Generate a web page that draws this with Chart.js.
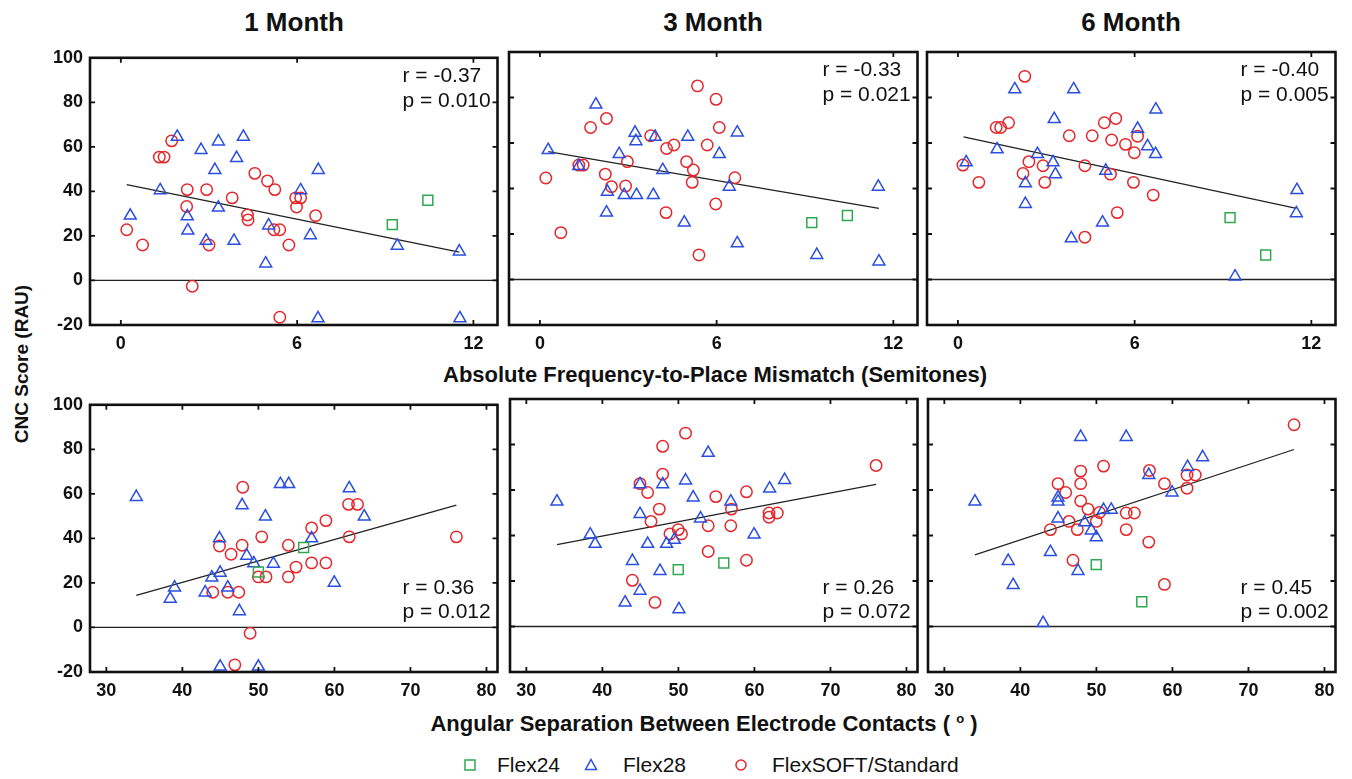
<!DOCTYPE html>
<html>
<head>
<meta charset="utf-8">
<script src="https://cdn.jsdelivr.net/npm/chart.js@4.4.0/dist/chart.umd.min.js"></script>
<style>
  body { margin: 0; background: #fff; }
  #fig { position: relative; width: 1352px; height: 779px; overflow: hidden;
         font-family: "Liberation Sans", Arial, sans-serif; color: #111; }
  #fig canvas { position: absolute; }
  .lbl { position: absolute; white-space: nowrap; transform: translate(-50%, -50%); }
  .title { font-size: 26px; font-weight: bold; }
  .axis { font-size: 22px; font-weight: bold; }
  .legend { position: absolute; font-size: 21px; white-space: nowrap; transform: translateY(-50%); }
</style>
</head>
<body>
<div id="fig">
  <div class="lbl title" style="left:294px; top:22px">1 Month</div>
  <div class="lbl title" style="left:713px; top:22px">3 Month</div>
  <div class="lbl title" style="left:1131px; top:22px">6 Month</div>
  <div class="lbl axis" style="left:22px; top:364px; transform:translate(-50%,-50%) rotate(-90deg); font-size:19px">CNC Score (RAU)</div>
  <div class="lbl axis" style="left:715px; top:375px">Absolute Frequency-to-Place Mismatch (Semitones)</div>
  <div class="lbl axis" style="left:704px; top:724px">Angular Separation Between Electrode Contacts ( <sup style="font-size:13px">o</sup> )</div>
</div>

<script>
// tick values
const mismatchTicks = [0, 6, 12];
const angleTicks = [30, 40, 50, 60, 70, 80];
const scoreTicks = [-20, 0, 20, 40, 60, 80, 100];

// series names
const seriesNames = ['Flex24', 'Flex28', 'FlexSOFT/Standard'];

// 1 month, mismatch (semitones) vs CNC
const mis1Flex24 = [[9.24, 25.1], [10.45, 36.0]];
const mis1Flex28 = [[1.92, 64.5], [2.73, 58.6], [3.32, 62.4], [4.17, 64.5], [3.94, 55.0], [3.20, 49.6], [6.72, 49.6],
  [1.34, 40.5], [6.12, 40.5], [0.32, 29.1], [2.26, 28.8], [3.32, 32.7], [2.28, 22.4], [5.03, 24.7], [2.90, 17.8],
  [3.85, 17.8], [6.45, 20.3], [4.93, 7.6], [9.41, 15.6], [11.52, 13.0], [6.71, -17.0], [11.54, -17.0]];
const mis1Soft = [[1.73, 62.7], [1.31, 55.4], [1.47, 55.4], [2.26, 40.8], [2.92, 40.8], [2.24, 33.2], [4.56, 48.1],
  [4.99, 44.7], [5.24, 40.8], [3.79, 37.1], [4.31, 29.4], [4.33, 27.2], [5.95, 37.1], [6.12, 37.1], [5.98, 33.0],
  [6.63, 29.1], [0.20, 22.8], [0.74, 15.9], [3.00, 15.9], [5.21, 22.8], [5.41, 22.8], [5.72, 15.9], [2.43, -2.6],
  [5.41, -16.5]];
const mis1Fit = [[0.20, 43.0], [11.52, 12.7]];

// 3 month, mismatch
const mis2Flex24 = [[9.23, 25.0], [10.44, 28.1]];
const mis2Flex28 = [[1.90, 76.9], [0.28, 56.9], [3.23, 64.5], [3.91, 62.7], [3.26, 60.8], [5.02, 62.7], [6.70, 64.6],
  [2.69, 55.1], [6.09, 55.1], [1.32, 49.9], [4.17, 48.1], [2.29, 38.6], [2.86, 37.1], [3.28, 37.1], [3.85, 37.1],
  [6.43, 40.8], [2.26, 29.4], [4.90, 25.0], [6.70, 15.9], [9.40, 10.8], [11.49, 40.8], [11.51, 7.9]];
const mis2Soft = [[5.35, 85.1], [5.98, 79.2], [2.26, 70.8], [1.72, 66.8], [6.09, 66.8], [3.76, 63.2], [4.30, 57.6],
  [4.55, 59.1], [5.68, 59.1], [1.32, 50.3], [1.47, 50.3], [2.97, 51.8], [4.98, 51.8], [5.21, 48.1], [5.17, 42.7],
  [2.22, 46.3], [2.43, 40.8], [2.91, 41.1], [0.20, 44.6], [6.62, 44.7], [5.97, 33.2], [4.28, 29.4], [0.71, 20.6],
  [5.40, 10.8]];
const mis2Fit = [[0.28, 56.2], [11.51, 31.3]];

// 6 month, mismatch
const mis3Flex24 = [[9.24, 27.2], [10.45, 10.8]];
const mis3Flex28 = [[1.93, 83.6], [3.93, 83.6], [6.72, 74.7], [3.27, 70.5], [6.10, 66.2], [1.33, 57.2], [6.44, 58.6],
  [6.71, 55.1], [2.70, 55.1], [0.28, 51.5], [3.23, 51.5], [3.31, 46.2], [5.02, 47.8], [2.29, 42.3], [2.29, 33.2],
  [4.91, 25.0], [3.85, 18.1], [11.51, 39.3], [11.49, 29.1], [9.41, 1.3]];
const mis3Soft = [[2.27, 89.3], [5.36, 70.8], [4.97, 68.9], [1.72, 68.9], [1.30, 66.8], [1.45, 66.8], [3.78, 63.2],
  [4.56, 63.2], [5.22, 61.3], [5.69, 59.4], [6.10, 63.0], [5.99, 55.7], [2.41, 51.8], [0.17, 50.3], [2.89, 50.0],
  [2.21, 46.6], [4.31, 50.0], [5.18, 46.3], [0.71, 42.7], [2.95, 42.7], [5.96, 42.7], [6.63, 37.1], [5.41, 29.4],
  [4.31, 18.6]];
const mis3Fit = [[0.19, 62.7], [11.49, 31.3]];

// 1 month, angular separation (deg) vs CNC
const ang1Flex24 = [[50.0, 24.9], [55.95, 35.9]];
const ang1Flex28 = [[33.94, 58.6], [52.89, 64.4], [53.98, 64.4], [61.95, 62.5], [47.86, 54.9], [63.92, 49.8],
  [50.92, 49.8], [44.88, 40.0], [57.0, 40.0], [48.47, 32.2], [49.39, 28.8], [51.97, 28.6], [44.97, 24.6],
  [43.87, 22.4], [38.97, 17.9], [38.4, 12.9], [43.0, 15.7], [45.97, 17.9], [59.98, 20.1], [47.5, 7.3],
  [44.97, -17.6], [50.0, -17.6]];
const ang1Soft = [[47.94, 63.0], [61.86, 55.3], [63.04, 55.3], [58.88, 48.0], [57.0, 44.7], [50.44, 40.7],
  [61.95, 40.7], [76.04, 40.7], [44.88, 36.6], [47.86, 36.9], [46.41, 32.9], [53.94, 36.9], [54.95, 27.1],
  [57.0, 29.0], [58.88, 29.0], [50.0, 22.7], [51.0, 22.7], [53.94, 22.7], [44.0, 15.8], [45.97, 15.8],
  [47.42, 15.8], [48.91, -2.6], [46.9, -16.8]];
const ang1Fit = [[33.94, 14.4], [76.04, 54.9]];

// 3 month, angular separation
const ang2Flex24 = [[49.98, 25.0], [55.97, 27.9]];
const ang2Flex28 = [[53.92, 76.3], [34.02, 54.9], [44.95, 62.5], [47.93, 62.5], [50.94, 64.2], [51.95, 56.7],
  [56.89, 54.9], [62.0, 60.6], [63.97, 64.4], [44.95, 49.4], [52.91, 47.5], [38.4, 40.4], [39.05, 36.3],
  [59.95, 40.4], [45.96, 36.3], [48.45, 36.3], [49.46, 38.1], [43.95, 28.8], [47.58, 24.4], [44.95, 15.7],
  [42.99, 10.5], [50.07, 7.6]];
const ang2Soft = [[50.94, 85.0], [47.93, 79.2], [76.0, 70.8], [47.93, 66.9], [44.95, 62.8], [45.96, 58.9],
  [54.92, 57.1], [58.95, 59.2], [47.49, 51.6], [56.98, 51.6], [61.92, 49.9], [61.92, 48.0], [63.01, 49.9],
  [46.4, 46.2], [53.92, 44.3], [56.89, 44.3], [49.98, 42.6], [48.89, 40.7], [50.41, 40.7], [53.92, 33.0],
  [58.95, 29.1], [43.95, 20.3], [46.92, 10.6]];
const ang2Fit = [[34.02, 36.0], [76.0, 62.5]];

// 6 month, angular separation
const ang3Flex24 = [[49.98, 27.2], [55.97, 10.9]];
const ang3Flex28 = [[47.93, 83.3], [53.92, 83.3], [63.97, 74.4], [62.0, 70.1], [56.89, 66.6], [59.95, 58.9],
  [34.02, 54.9], [44.95, 56.7], [44.95, 54.9], [50.94, 51.2], [51.95, 51.3], [44.95, 47.5], [48.45, 45.8],
  [49.33, 42.2], [49.98, 39.2], [43.95, 32.7], [38.4, 28.8], [47.58, 24.4], [39.05, 18.2], [42.99, 1.5]];
const ang3Soft = [[76.0, 88.7], [50.94, 70.5], [47.93, 68.3], [56.98, 68.6], [61.92, 66.6], [63.01, 66.6],
  [44.95, 62.8], [47.93, 62.8], [58.95, 62.8], [45.96, 58.9], [61.92, 60.8], [47.93, 55.2], [48.89, 51.6],
  [50.41, 50.1], [53.92, 49.9], [55.0, 49.9], [46.4, 46.2], [49.98, 46.2], [43.95, 42.6], [47.49, 42.6],
  [53.92, 42.6], [56.89, 37.1], [46.92, 29.1], [58.95, 18.5]];
const ang3Fit = [[34.02, 31.5], [76.0, 77.8]];

// correlation stats per panel
const rValues = ['-0.37', '-0.33', '-0.40', '0.36', '0.26', '0.45'];
const pValues = ['0.010', '0.021', '0.005', '0.012', '0.072', '0.002'];

const FONT = '"Liberation Sans", Arial, sans-serif';
const GREEN = '#2fa84f', BLUE = '#2a4fe0', RED = '#e5262a';

const pts = arr => arr.map(([x, y]) => ({ x, y }));

// frame, inward tick marks, zero line and r/p text
const framePlugin = {
  id: 'frame',
  beforeDatasetsDraw(chart) {
    const { ctx, chartArea: a, scales: { y } } = chart;
    const y0 = y.getPixelForValue(0);
    ctx.save();
    ctx.strokeStyle = '#222';
    ctx.lineWidth = 1.3;
    ctx.beginPath();
    ctx.moveTo(a.left, y0);
    ctx.lineTo(a.right, y0);
    ctx.stroke();
    ctx.restore();
  },
  afterDatasetsDraw(chart, args, opts) {
    const { ctx, chartArea: a, scales: { x, y } } = chart;
    ctx.save();
    ctx.strokeStyle = '#111';
    ctx.lineWidth = 1.8;
    ctx.beginPath();
    x.ticks.forEach(t => {
      const px = x.getPixelForValue(t.value);
      ctx.moveTo(px, a.bottom); ctx.lineTo(px, a.bottom - 5);
      ctx.moveTo(px, a.top); ctx.lineTo(px, a.top + 5);
    });
    y.ticks.forEach(t => {
      const py = y.getPixelForValue(t.value);
      ctx.moveTo(a.left, py); ctx.lineTo(a.left + 5, py);
      ctx.moveTo(a.right, py); ctx.lineTo(a.right - 5, py);
    });
    ctx.stroke();
    ctx.lineWidth = 2.6;
    ctx.strokeRect(a.left, a.top, a.right - a.left, a.bottom - a.top);

    ctx.fillStyle = '#111';
    ctx.font = '21px ' + FONT;
    ctx.textAlign = 'left';
    ctx.textBaseline = 'alphabetic';
    const tx = a.right - 95;
    const base = opts.statsTop ? [a.top + 24, a.top + 49] : [a.bottom - 78, a.bottom - 54];
    ctx.fillText('r = ' + opts.r, tx, base[0]);
    ctx.fillText('p = ' + opts.p, tx, base[1]);
    ctx.restore();
  }
};

const PAD_L = 60, PAD_T = 12, PAD_R = 8, PAD_B = 36;

const panels = [
  { left: 90,  top: 52,  width: 408, height: 273, ticks: mismatchTicks, min: -1.05, max: 12.82, showY: true,  statsTop: true,
    sets: [mis1Flex24, mis1Flex28, mis1Soft, mis1Fit] },
  { left: 509, top: 52,  width: 409, height: 273, ticks: mismatchTicks, min: -1.05, max: 12.82, showY: false, statsTop: true,
    sets: [mis2Flex24, mis2Flex28, mis2Soft, mis2Fit] },
  { left: 927, top: 52,  width: 409, height: 273, ticks: mismatchTicks, min: -1.05, max: 12.82, showY: false, statsTop: true,
    sets: [mis3Flex24, mis3Flex28, mis3Soft, mis3Fit] },
  { left: 90,  top: 399, width: 408, height: 273, ticks: angleTicks, min: 27.85, max: 81.45, showY: true,  statsTop: false,
    sets: [ang1Flex24, ang1Flex28, ang1Soft, ang1Fit] },
  { left: 510, top: 399, width: 408, height: 273, ticks: angleTicks, min: 27.85, max: 81.45, showY: false, statsTop: false,
    sets: [ang2Flex24, ang2Flex28, ang2Soft, ang2Fit] },
  { left: 928, top: 399, width: 408, height: 273, ticks: angleTicks, min: 27.85, max: 81.45, showY: false, statsTop: false,
    sets: [ang3Flex24, ang3Flex28, ang3Soft, ang3Fit] }
];

const fig = document.getElementById('fig');
const tickFont = { family: FONT, size: 18, weight: 'bold' };

panels.forEach((p, i) => {
  const cv = document.createElement('canvas');
  cv.width = p.width + PAD_L + PAD_R;
  cv.height = p.height + PAD_T + PAD_B;
  cv.style.left = (p.left - PAD_L) + 'px';
  cv.style.top = (p.top - PAD_T) + 'px';
  fig.appendChild(cv);

  const [f24, f28, soft, fit] = p.sets;
  new Chart(cv, {
    type: 'scatter',
    data: {
      datasets: [
        { label: 'fit', type: 'line', data: pts(fit), borderColor: '#222', borderWidth: 1.3,
          pointRadius: 0, fill: false, order: 4 },
        { label: seriesNames[2], data: pts(soft), pointStyle: 'circle', pointRadius: 5.7,
          borderColor: RED, backgroundColor: 'rgba(0,0,0,0)', pointBorderWidth: 1.5, order: 3 },
        { label: seriesNames[1], data: pts(f28), pointStyle: 'triangle', pointRadius: 6.9,
          borderColor: BLUE, backgroundColor: 'rgba(0,0,0,0)', pointBorderWidth: 1.5, order: 2 },
        { label: seriesNames[0], data: pts(f24), pointStyle: 'rect', pointRadius: 7,
          borderColor: GREEN, backgroundColor: 'rgba(0,0,0,0)', pointBorderWidth: 1.5, order: 1 }
      ]
    },
    options: {
      responsive: false,
      animation: false,
      events: [],
      layout: { padding: { top: PAD_T, right: PAD_R, left: 0, bottom: 0 } },
      plugins: {
        legend: { display: false },
        tooltip: { enabled: false },
        frame: { r: rValues[i], p: pValues[i], statsTop: p.statsTop }
      },
      scales: {
        x: {
          type: 'linear', min: p.min, max: p.max,
          grid: { display: false, drawTicks: false },
          border: { display: false },
          afterBuildTicks: s => { s.ticks = p.ticks.map(v => ({ value: v })); },
          afterFit: s => { s.height = PAD_B; },
          ticks: { color: '#111', font: tickFont, padding: 8, maxRotation: 0, autoSkip: false }
        },
        y: {
          type: 'linear', min: -20, max: 100,
          grid: { display: false, drawTicks: false },
          border: { display: false },
          afterBuildTicks: s => { s.ticks = scoreTicks.map(v => ({ value: v })); },
          afterFit: s => { s.width = PAD_L; },
          ticks: { display: p.showY, color: '#111', font: tickFont, padding: 7, autoSkip: false }
        }
      }
    },
    plugins: [framePlugin]
  });
});

// legend row under the panels
const legendItems = [
  { name: seriesNames[0], color: GREEN, shape: 'rect', cx: 470, tx: 497 },
  { name: seriesNames[1], color: BLUE, shape: 'tri', cx: 591, tx: 623 },
  { name: seriesNames[2], color: RED, shape: 'circ', cx: 741, tx: 772 }
];
const LEG_Y = 765;
legendItems.forEach(it => {
  let svg;
  if (it.shape === 'rect') svg = '<rect x="2" y="2" width="10" height="10" fill="none" stroke="' + it.color + '" stroke-width="1.5"/>';
  else if (it.shape === 'tri') svg = '<polygon points="7,1.5 12.5,11.5 1.5,11.5" fill="none" stroke="' + it.color + '" stroke-width="1.5"/>';
  else svg = '<circle cx="7" cy="7" r="5" fill="none" stroke="' + it.color + '" stroke-width="1.5"/>';
  const s = document.createElement('div');
  s.innerHTML = '<svg width="14" height="14">' + svg + '</svg>';
  s.style.cssText = 'position:absolute;left:' + (it.cx - 7) + 'px;top:' + (LEG_Y - 7) + 'px;width:14px;height:14px';
  fig.appendChild(s);
  const t = document.createElement('div');
  t.className = 'legend';
  t.style.left = it.tx + 'px';
  t.style.top = LEG_Y + 'px';
  t.textContent = it.name;
  fig.appendChild(t);
});
</script>
</body>
</html>
